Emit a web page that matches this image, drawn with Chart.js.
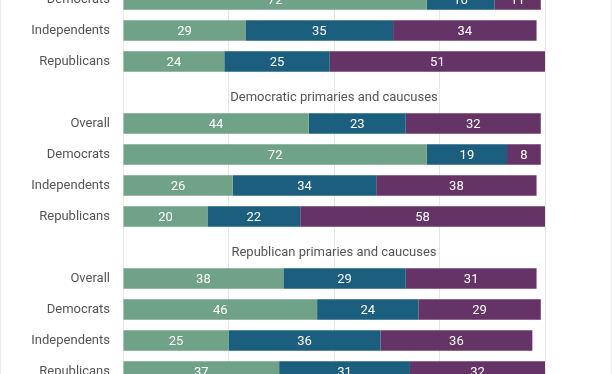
<!DOCTYPE html>
<html>
<head>
<meta charset="utf-8">
<script src="https://cdn.jsdelivr.net/npm/chart.js@4"></script>
<style>
    html, body { margin: 0; padding: 0; background: #fff; }
    .frame { position: relative; width: 612px; height: 374px; overflow: hidden; }
    .wrap { position: absolute; left: 0; top: -16px; width: 612px; height: 403px; }
    .edge { position: absolute; top: 0; bottom: 0; width: 1px; background: #ebebeb; }
</style>
</head>
<body>
<div class="frame">
    <div class="wrap"><canvas id="myChart"></canvas></div>
    <div class="edge" style="left:0"></div>
    <div class="edge" style="right:0"></div>
</div>
<script>

// rows from top to bottom (the picture is cropped, first group starts at Democrats)
const rowLabels = [
    'Democrats', 'Independents', 'Republicans',
    'Democratic primaries and caucuses',
    'Overall', 'Democrats', 'Independents', 'Republicans',
    'Republican primaries and caucuses',
    'Overall', 'Democrats', 'Independents', 'Republicans'
];
const groupTitles = ['Democratic primaries and caucuses', 'Republican primaries and caucuses'];

const seriesNames = ['Yes', 'No', 'Not sure'];
const greenValues = [72, 29, 24, null, 44, 72, 26, 20, null, 38, 46, 25, 37];
const blueValues = [16, 35, 25, null, 23, 19, 34, 22, null, 29, 24, 36, 31];
const purpleValues = [11, 34, 51, null, 32, 8, 38, 58, null, 31, 29, 36, 32];

const xTicks = [0, 25, 50, 75, 100];

Chart.defaults.font.family = 'Roboto';
Chart.defaults.font.size = 13;
Chart.defaults.color = '#555';

// numbers inside the bars
const valueLabels = {
    id: 'valueLabels',
    afterDatasetsDraw(chart) {
        const ctx = chart.ctx;
        ctx.save();
        ctx.font = '13px Roboto';
        ctx.fillStyle = '#fff';
        ctx.textAlign = 'center';
        ctx.textBaseline = 'middle';
        chart.data.datasets.forEach((ds, i) => {
            chart.getDatasetMeta(i).data.forEach((bar, j) => {
                const v = ds.data[j];
                if (v == null) return;
                const p = bar.getCenterPoint();
                ctx.fillText(v, p.x, p.y + 1);
            });
        });
        ctx.restore();
    }
};

// section titles sit in the empty rows
const groupTitlePlugin = {
    id: 'groupTitles',
    afterDatasetsDraw(chart) {
        const ctx = chart.ctx;
        const area = chart.chartArea;
        const y = chart.scales.y;
        ctx.save();
        ctx.font = '13px Roboto';
        ctx.fillStyle = '#555';
        ctx.textAlign = 'center';
        ctx.textBaseline = 'middle';
        rowLabels.forEach((l, i) => {
            if (groupTitles.indexOf(l) < 0) return;
            ctx.fillText(l, (area.left + area.right) / 2, y.getPixelForValue(i) + 5);
        });
        ctx.restore();
    }
};

const data = {
    labels: rowLabels,
    datasets: [
        { label: seriesNames[0], data: greenValues, backgroundColor: '#6fa287' },
        { label: seriesNames[1], data: blueValues, backgroundColor: '#1b5e7d' },
        { label: seriesNames[2], data: purpleValues, backgroundColor: '#663366' }
    ]
};

const config = {
    type: 'bar',
    data,
    options: {
        indexAxis: 'y',
        responsive: true,
        maintainAspectRatio: false,
        animation: false,
        categoryPercentage: 1,
        barPercentage: 0.66,
        layout: { padding: { left: 0, right: 67, top: 0, bottom: 0 } },
        plugins: {
            legend: { display: false },
            tooltip: { enabled: false }
        },
        scales: {
            x: {
                stacked: true,
                min: 0,
                max: 100,
                afterBuildTicks: (s) => { s.ticks = xTicks.map(v => ({ value: v })); },
                afterFit: (s) => { s.height = 0; },
                ticks: { display: false },
                grid: { color: '#e6e6e6', drawTicks: false },
                border: { display: false }
            },
            y: {
                stacked: true,
                afterFit: (s) => {
                    s.width = 123;
                    // the tick padding would otherwise push the plot down
                    s.paddingTop = 0;
                    s.paddingBottom = 0;
                },
                grid: { display: false, drawTicks: false },
                border: { display: false },
                ticks: {
                    padding: 13,
                    color: '#555',
                    font: { size: 13 },
                    callback: function (v, i) {
                        const l = rowLabels[i];
                        return groupTitles.indexOf(l) >= 0 ? '' : l;
                    }
                }
            }
        }
    },
    plugins: [valueLabels, groupTitlePlugin]
};

var myChart = new Chart(document.getElementById('myChart'), config);

</script>
</body>
</html>
